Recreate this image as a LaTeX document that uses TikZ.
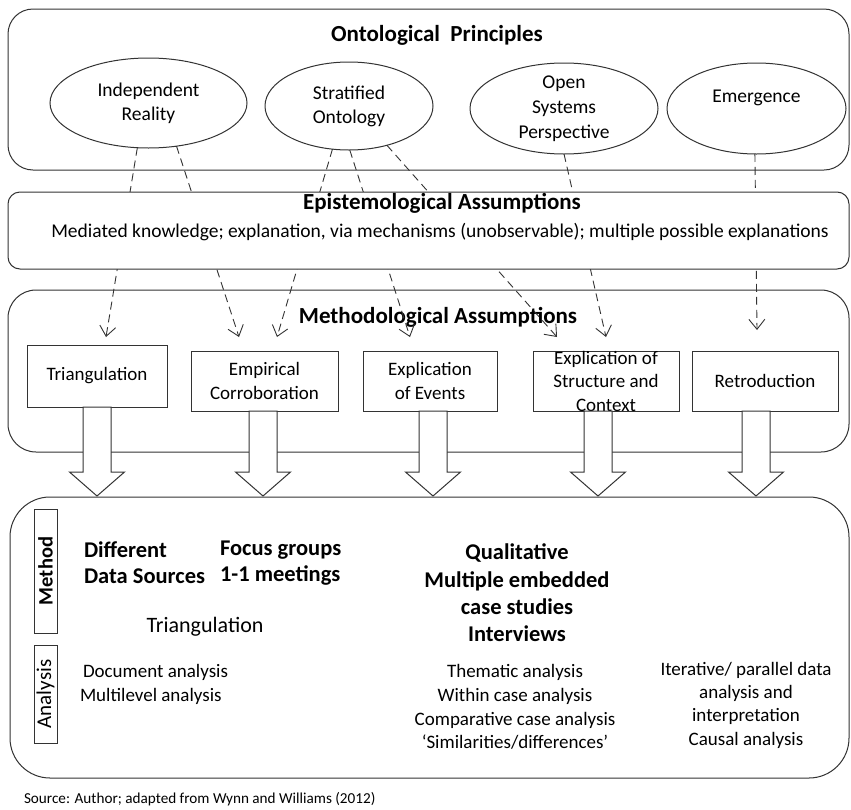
\documentclass[tikz,border=0pt]{standalone}
\usepackage{fontspec}
\setmainfont{Carlito}
\usetikzlibrary{shapes.geometric,arrows.meta,calc}
\newcommand\myfs[2]{\fontsize{#1}{#2}\selectfont}
\begin{document}
\begin{tikzpicture}[x=1pt,y=-1pt,
  every node/.style={inner sep=0pt, outer sep=0pt},
  frame/.style={draw=black!80, line width=1pt},
  bigbox/.style={frame, rectangle, fill=white},
  ell/.style={frame, ellipse, fill=white, align=center, font=\myfs{19.5}{24}},
  mbox/.style={frame, rectangle, fill=white, align=center, font=\myfs{19}{23.5}, minimum height=60},
  ttl/.style={font=\bfseries\myfs{23}{27}},
  txt/.style={font=\myfs{19}{23.5}, align=center},
  bld/.style={font=\bfseries\myfs{22.5}{26}},
  dasharr/.style={draw=black!80, line width=0.9pt, dash pattern=on 8pt off 5pt, -{Straight Barb[length=10pt,width=16pt]}},
  blk/.style={frame, fill=white, line join=miter},
  vlab/.style={frame, rectangle, rotate=90, minimum height=23}
]
\useasboundingbox[fill=white] (0,0) rectangle (851,809);

% Ontological principles
\node[bigbox, minimum width=841, minimum height=161, rounded corners=25] (onto) at (428.5,89.5) {};
\node[ttl] (ontot) at (437,35) {Ontological\ \ Principles};
\node[ell, minimum width=197, minimum height=90] (ir) at (148.5,103) {Independent\\Reality};
\node[ell, minimum width=168, minimum height=88] (so) at (349,106) {Stratified\\Ontology};
\node[ell, minimum width=188, minimum height=91, inner sep=-10pt, font=\myfs{19.5}{25}] (os) at (564,108.5) {Open\\Systems\\Perspective};
\node[ell, minimum width=179, minimum height=91] (em) at (756.5,108.5) {Emergence\\\mbox{}};

% Methodological assumptions
\node[bigbox, minimum width=841, minimum height=162, rounded corners=28] (meth) at (428.5,371) {};
\node[ttl] (metht) at (438,317) {Methodological Assumptions};
\node[mbox, minimum width=140, minimum height=62] (tri) at (97,376) {Triangulation};
\node[mbox, minimum width=147] (emp) at (264.5,381) {Empirical\\Corroboration};
\node[mbox, minimum width=134] (evt) at (430,381) {Explication\\of Events};
\node[mbox, minimum width=146, inner ysep=-8pt] (str) at (606,381) {Explication of\\Structure and\\Context};
\node[mbox, minimum width=146] (ret) at (765,381) {Retroduction};

% dashed links
\draw[dasharr] (ir.-104.3) -- ([xshift=9,yshift=8]tri.north);
\draw[dasharr] (ir.-57.5) -- ([xshift=-25.5,yshift=14]emp.north);
\draw[dasharr] (so.-111.5) -- ([xshift=12.5,yshift=14]emp.north);
\draw[dasharr] (so.-89) -- ([xshift=-20,yshift=14]evt.north);
\draw[dasharr] (so.-46) -- ([xshift=-49,yshift=14]str.north);
\draw[dasharr] (os.-90.6) -- ([xshift=0,yshift=14]str.north);
\draw[dasharr] (em.-92) -- ([xshift=-8,yshift=21]ret.north);

% Epistemological assumptions
\node[bigbox, minimum width=841, minimum height=77, rounded corners=12] (epi) at (428.5,230.5) {};
\node[ttl] (epit) at (442,203) {Epistemological Assumptions};
\node[txt, font=\myfs{19.5}{23.5}] (epid) at (440,232) {Mediated knowledge; explanation, via mechanisms (unobservable); multiple possible explanations};

% Result box
\node[bigbox, minimum width=839, minimum height=281, rounded corners=40] (res) at (429.5,637.5) {};
\coordinate (t1) at (97,496);
\coordinate (t2) at (263,496);
\coordinate (t3) at (433,496);
\coordinate (t4) at (598,496);
\coordinate (t5) at (756,496);
\foreach \b/\t in {tri/t1, emp/t2, evt/t3, str/t4, ret/t5}{
  \draw[blk] let \p1=(\t), \p2=(\b.south) in
    (\x1-14pt,\y2) -- (\x1-14pt,\y1+24pt) -- (\x1-27.5pt,\y1+24pt) -- (\p1)
    -- (\x1+27.5pt,\y1+24pt) -- (\x1+14pt,\y1+24pt) -- (\x1+14pt,\y2) -- cycle;
}

\node[vlab, minimum width=124, font=\bfseries\myfs{20.5}{24}] (mth) at (45.5,571) {Method};
\node[vlab, minimum width=98, font=\myfs{21}{24}] (ana) at (45.5,694) {Analysis};

\node[bld, anchor=west, align=left] (diff) at (84,563) {Different\\Data Sources};
\node[bld, anchor=west, align=left] (focus) at (220,563) {Focus groups\\1-1 meetings};
\node[bld, align=center, font=\bfseries\myfs{22.5}{27.3}] (qual) at (517,593) {Qualitative\\Multiple embedded\\case studies\\Interviews};
\node[font=\myfs{22}{26}] (triang) at (205,627) {Triangulation};
\node[txt, anchor=west, align=left] (doc) at (83,684.5) {Document analysis\\\hspace*{-3pt}Multilevel analysis};
\node[txt, font=\myfs{19}{23.7}] (them) at (515,707) {Thematic analysis\\Within case analysis\\Comparative case analysis\\‘Similarities/differences’};
\node[txt, font=\myfs{19}{23.3}] (iter) at (746,705) {Iterative/ parallel data\\analysis and\\interpretation\\Causal analysis};

\node[anchor=west, font=\myfs{15.2}{18}] (src) at (24,799) {Source: Author; adapted from Wynn and Williams (2012)};
\end{tikzpicture}
\end{document}
